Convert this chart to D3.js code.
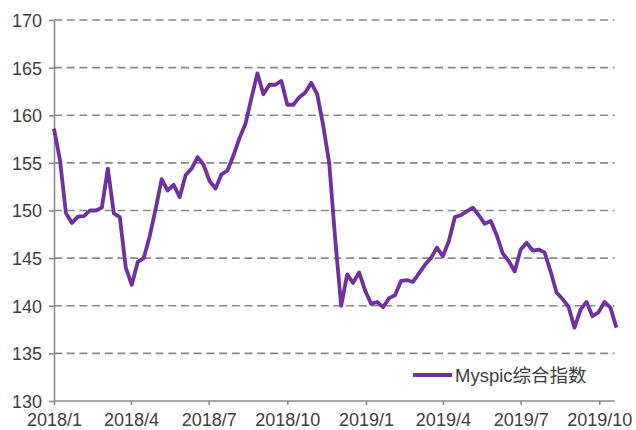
<!DOCTYPE html>
<html>
<head>
<meta charset="utf-8">
<script src="https://cdn.jsdelivr.net/npm/d3@7"></script>
<style>
html,body{margin:0;padding:0;background:#fff;}
svg{display:block;}
</style>
</head>
<body>
<svg id="chart" width="636" height="430"></svg>
<script>
// weekly observation dates
const dates = [
"2018-01-01","2018-01-08","2018-01-15","2018-01-22","2018-01-29",
"2018-02-05","2018-02-12","2018-02-19","2018-02-26",
"2018-03-05","2018-03-12","2018-03-19","2018-03-26",
"2018-04-02","2018-04-09","2018-04-16","2018-04-23","2018-04-30",
"2018-05-07","2018-05-14","2018-05-21","2018-05-28",
"2018-06-04","2018-06-11","2018-06-18","2018-06-25",
"2018-07-02","2018-07-09","2018-07-16","2018-07-23","2018-07-30",
"2018-08-06","2018-08-13","2018-08-20","2018-08-27",
"2018-09-03","2018-09-10","2018-09-17","2018-09-24",
"2018-10-01","2018-10-08","2018-10-15","2018-10-22","2018-10-29",
"2018-11-05","2018-11-12","2018-11-19","2018-11-26",
"2018-12-03","2018-12-10","2018-12-17","2018-12-24","2018-12-31",
"2019-01-07","2019-01-14","2019-01-21","2019-01-28",
"2019-02-04","2019-02-11","2019-02-18","2019-02-25",
"2019-03-04","2019-03-11","2019-03-18","2019-03-25",
"2019-04-01","2019-04-08","2019-04-15","2019-04-22","2019-04-29",
"2019-05-06","2019-05-13","2019-05-20","2019-05-27",
"2019-06-03","2019-06-10","2019-06-17","2019-06-24",
"2019-07-01","2019-07-08","2019-07-15","2019-07-22","2019-07-29",
"2019-08-05","2019-08-12","2019-08-19","2019-08-26",
"2019-09-02","2019-09-09","2019-09-16","2019-09-23","2019-09-30",
"2019-10-07","2019-10-14","2019-10-21"
];
// Myspic综合指数 values
const values = [
158.6,155.3,149.7,148.7,149.35,149.4,150.0,150.0,150.3,154.4,
149.7,149.3,144.0,142.2,144.6,145.0,147.3,150.2,153.3,152.1,
152.7,151.4,153.7,154.4,155.6,154.8,153.1,152.3,153.8,154.2,
155.8,157.6,159.1,161.8,164.4,162.2,163.2,163.2,163.6,161.1,
161.1,161.9,162.4,163.4,162.2,158.9,155.0,147.0,140.0,143.3,
142.4,143.5,141.6,140.2,140.4,139.85,140.8,141.1,142.6,142.7,
142.5,143.4,144.3,145.0,146.1,145.2,146.8,149.3,149.5,149.9,
150.3,149.5,148.6,148.9,147.4,145.5,144.7,143.6,145.9,146.6,
145.8,145.9,145.6,143.6,141.4,140.7,139.9,137.7,139.6,140.4,
138.9,139.3,140.4,139.8,137.7
];
const seriesName = "Myspic综合指数";
const yTicks = [130,135,140,145,150,155,160,165,170];
const xTickDates = ["2018-01-01","2018-04-01","2018-07-01","2018-10-01","2019-01-01","2019-04-01","2019-07-01","2019-10-01"];
const xTickLabels = ["2018/1","2018/4","2018/7","2018/10","2019/1","2019/4","2019/7","2019/10"];

(function(){
const parse = d3.timeParse("%Y-%m-%d");
const data = dates.map((d,i)=>({date:parse(d), value:values[i]}));

const svg = d3.select("#chart");
const mLeft = 54, mTop = 20, mBottom = 401, axisRight = 614.5;
const font = "'Liberation Sans', Arial, 'Noto Sans CJK SC', sans-serif";
const textColor = "#404040";
const gridColor = "#8a8a8a";

const x = d3.scaleTime()
  .domain([parse("2018-01-01"), parse("2019-10-01")])
  .range([mLeft, 599.3]);
const y = d3.scaleLinear().domain([130,170]).range([mBottom, mTop]);

// gridlines
svg.append("g").selectAll("line")
  .data(yTicks.filter(t=>t>130))
  .join("line")
  .attr("x1", mLeft).attr("x2", axisRight)
  .attr("y1", d=>y(d)).attr("y2", d=>y(d))
  .attr("stroke", gridColor).attr("stroke-width", 1.6)
  .attr("stroke-dasharray", "8,4.7");

// y axis
const yAxis = d3.axisLeft(y).tickValues(yTicks).tickSize(5).tickSizeOuter(0).tickPadding(8);
const gy = svg.append("g").attr("transform", `translate(${mLeft},0)`).call(yAxis);
gy.select(".domain").attr("stroke", gridColor).attr("stroke-width", 1.6);
gy.selectAll(".tick line").attr("stroke", gridColor).attr("stroke-width", 1.6);
gy.selectAll(".tick text")
  .attr("font-family", font).attr("font-size", 18).attr("fill", textColor)
  .attr("x", -12).attr("dy", "0.36em");

// x axis
const xAxis = d3.axisBottom(x)
  .tickValues(xTickDates.map(parse))
  .tickFormat((d,i)=>xTickLabels[i])
  .tickSize(4).tickSizeOuter(0).tickPadding(8);
const gx = svg.append("g").attr("transform", `translate(0,${mBottom})`).call(xAxis);
gx.select(".domain").attr("d", `M${mLeft},0H${axisRight}`).attr("stroke", gridColor).attr("stroke-width", 1.6);
gx.selectAll(".tick line").attr("stroke", gridColor).attr("stroke-width", 1.6);
gx.selectAll(".tick text")
  .attr("font-family", font).attr("font-size", 18).attr("fill", textColor)
  .attr("dy", "0.71em");

// series line
const line = d3.line().x(d=>x(d.date)).y(d=>y(d.value));
svg.append("path").datum(data)
  .attr("fill","none")
  .attr("stroke","#7030A0")
  .attr("stroke-width",3.8)
  .attr("stroke-linejoin","round")
  .attr("d", line);

// legend
const lg = svg.append("g");
lg.append("line").attr("x1",413).attr("x2",452).attr("y1",375).attr("y2",375)
  .attr("stroke","#7030A0").attr("stroke-width",4);
lg.append("text").attr("x",455).attr("y",382)
  .attr("font-family", font).attr("font-size", 18.5).attr("fill", textColor)
  .text(seriesName);
})();
</script>
</body>
</html>
